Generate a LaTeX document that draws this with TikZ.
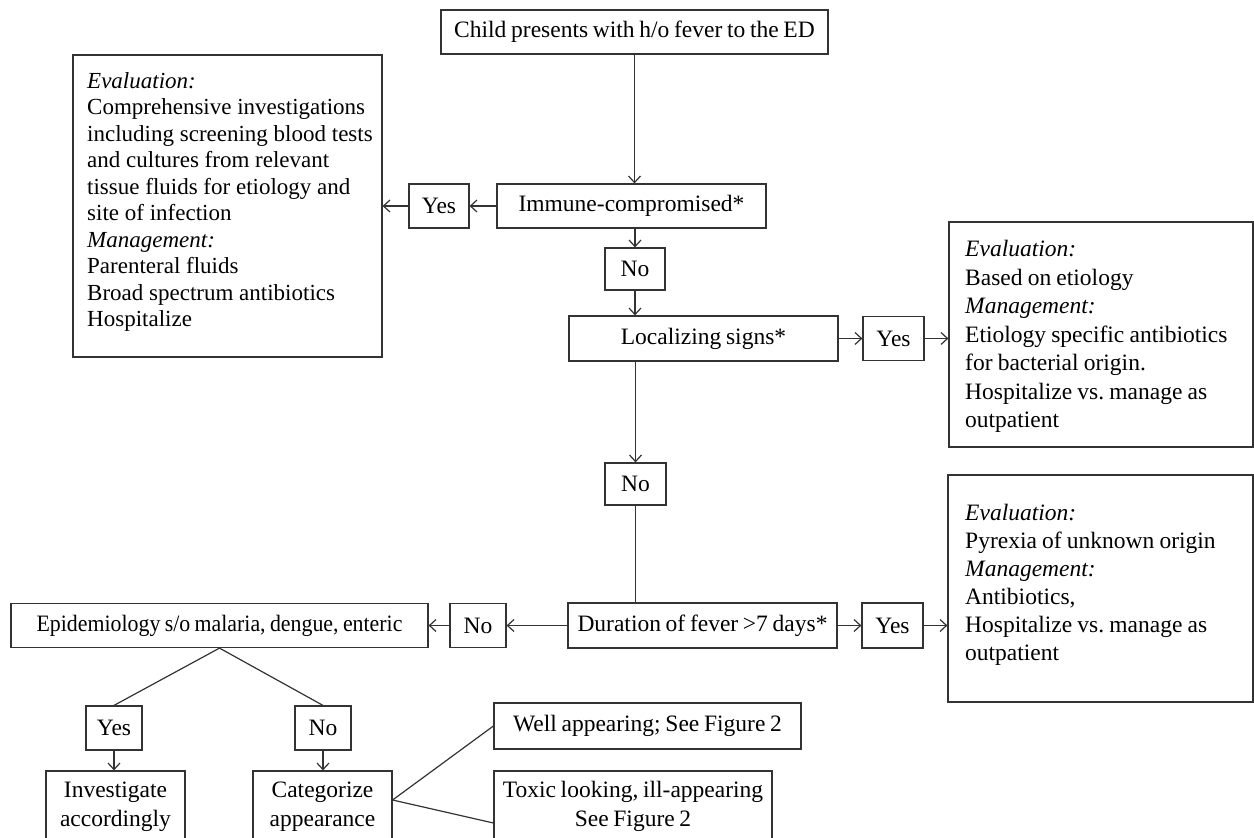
\documentclass[tikz,border=0pt]{standalone}
\usepackage{fontspec}
\usepackage{graphicx}
\setmainfont{Liberation Serif}[WordSpace=0.8]
\usetikzlibrary{arrows.meta,calc}
\definecolor{lc}{HTML}{333333}
\frenchspacing
\newcommand{\fsA}{\fontsize{23.5}{29}\selectfont}
\newcommand{\fsL}{\fontsize{23}{26.5}\selectfont}
\newcommand{\fsR}{\fontsize{23.5}{28.5}\selectfont}
\newcommand{\fsRb}{\fontsize{23.5}{28}\selectfont}
\tikzset{
  box/.style={draw=lc, line width=1.2pt, inner sep=0pt, align=center, font=\fsA},
  arr/.style={draw=lc, line width=1.2pt, -{Straight Barb[length=6.5pt,width=12pt]}},
  ln/.style={draw=lc, line width=1.2pt},
  txt/.style={inner sep=0pt, align=left, anchor=north west, text width=300pt}
}
\begin{document}
\begin{tikzpicture}[x=1pt,y=-1pt]
\useasboundingbox (0,0) rectangle (1254,838);
\clip (0,0) rectangle (1254,838);

% main column
\node[box, minimum width=387pt, minimum height=44pt] (top) at (634.5,32) {Child presents with h/o fever to the ED};
\node[box, minimum width=269pt, minimum height=44pt] (imm) at (631.5,206) {Immune-compromised*};
\node[box, minimum width=60pt, minimum height=44pt] (yes1) at (439,206) {Yes};
\node[box, minimum width=309pt, minimum height=302pt] (lb) at (227.5,206) {};
\node[txt, font=\fsL] (lbt) at (87,69.45) {\spaceskip=0.25em\relax\strut\textit{Evaluation:}\\
Comprehensive investigations\\
including screening blood tests\\
and cultures from relevant\\
tissue fluids for etiology and\\
site of infection\\
\textit{Management:}\\
Parenteral fluids\\
Broad spectrum antibiotics\\
Hospitalize};

\node[box, minimum width=60pt, minimum height=42pt] (no1) at (635,269) {No};
\node[box, minimum width=269pt, minimum height=45pt] (loc) at (703.5,338.5) {Localizing signs*};
\node[box, minimum width=61pt, minimum height=44pt] (yes2) at (893.5,338.5) {Yes};
\node[box, minimum width=304pt, minimum height=225pt] (rb1) at (1101,334.5) {};
\node[txt, font=\fsR] (rb1t) at (965,236.55) {\spaceskip=0.22em\relax\strut\textit{Evaluation:}\\
Based on etiology\\
\textit{Management:}\\
Etiology specific antibiotics\\
for bacterial origin.\\
Hospitalize vs. manage as\\
outpatient};

\node[box, minimum width=61pt, minimum height=42pt] (no2) at (635.5,484) {No};
\node[box, minimum width=269pt, minimum height=45pt] (dur) at (702.5,625.5) {Duration of fever >7 days*};
\node[box, minimum width=61pt, minimum height=45pt] (yes3) at (892.5,625.5) {Yes};
\node[box, minimum width=305pt, minimum height=227pt] (rb2) at (1100.5,588.5) {};
\node[txt, font=\fsRb] (rb2t) at (965,500.4) {\spaceskip=0.22em\relax\strut\textit{Evaluation:}\\
Pyrexia of unknown origin\\
\textit{Management:}\\
Antibiotics,\\
Hospitalize vs. manage as\\
outpatient};

\node[box, minimum width=56pt, minimum height=44pt] (no3) at (478,625.5) {No};
\node[box, minimum width=417pt, minimum height=44pt] (epi) at (219.5,625.5) {\scalebox{0.93}[1]{Epidemiology s/o malaria, dengue, enteric}};
\node[box, minimum width=56pt, minimum height=44pt] (yes4) at (114,728) {Yes};
\node[box, minimum width=56pt, minimum height=44pt] (no4) at (323,728) {No};
\node[box, minimum width=139pt, minimum height=71pt] (inv) at (115.5,806.5) {Investigate\\accordingly};
\node[box, minimum width=139pt, minimum height=71pt] (cat) at (322.5,806.5) {Categorize\\appearance};
\node[box, minimum width=307pt, minimum height=46pt] (well) at (647.5,726) {Well appearing; See Figure 2};
\node[box, minimum width=278pt, minimum height=70pt] (tox) at (633,806) {Toxic looking, ill-appearing\\See Figure 2};

% connectors
\draw[arr] (top.south) -- (top.south |- imm.north);
\draw[arr] (imm.west) -- (yes1.east);
\draw[arr] (yes1.west) -- (lb.east);
\draw[arr] (no1.north |- imm.south) -- (no1.north);
\draw[arr] (no1.south) -- (no1.south |- loc.north);
\draw[arr] (loc.east) -- (yes2.west);
\draw[arr] (yes2.east) -- (yes2.east -| rb1.west);
\draw[arr] (no2.north |- loc.south) -- (no2.north);
\draw[ln] (no2.south) -- (no2.south |- dur.north);
\draw[arr] (dur.east) -- (yes3.west);
\draw[arr] (yes3.east) -- (yes3.east -| rb2.west);
\draw[arr] (dur.west) -- (no3.east);
\draw[arr] (no3.west) -- (epi.east);
\draw[ln] (epi.south) -- (yes4.north);
\draw[ln] (epi.south) -- (no4.north);
\draw[arr] (yes4.south) -- (yes4.south |- inv.north);
\draw[arr] (no4.south) -- (no4.south |- cat.north);
\coordinate (catp) at ([yshift=6.5pt]cat.east);
\coordinate (toxp) at ([yshift=-17pt]tox.west);
\draw[ln] (catp) -- (well.west);
\draw[ln] (catp) -- (toxp);
\end{tikzpicture}
\end{document}
